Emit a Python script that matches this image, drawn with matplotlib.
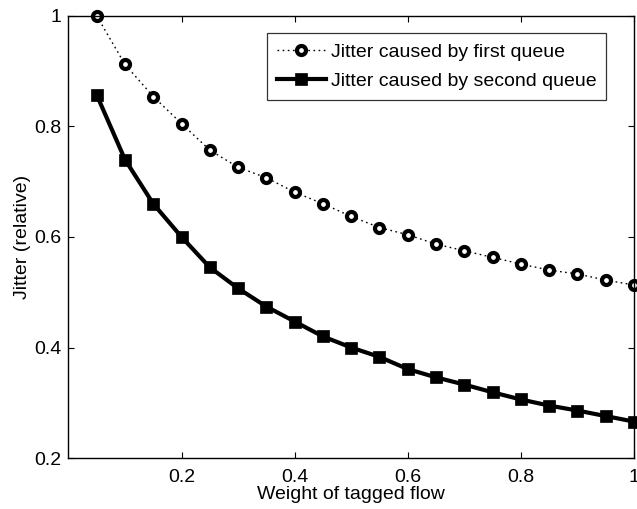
import numpy as np
import matplotlib
matplotlib.use('Agg')
import matplotlib.pyplot as plt

plt.rcParams['font.family'] = ['Liberation Sans', 'DejaVu Sans']

# weight of tagged flow
weight = [0.05, 0.10, 0.15, 0.20, 0.25, 0.30, 0.35, 0.40, 0.45, 0.50,
          0.55, 0.60, 0.65, 0.70, 0.75, 0.80, 0.85, 0.90, 0.95, 1.00]
# jitter caused by first queue (relative)
jitter_first = [1.000, 0.912, 0.854, 0.805, 0.757, 0.726, 0.707, 0.681, 0.660, 0.637,
                0.617, 0.604, 0.587, 0.575, 0.563, 0.551, 0.540, 0.533, 0.522, 0.513]
# jitter caused by second queue (relative)
jitter_second = [0.857, 0.740, 0.660, 0.600, 0.545, 0.507, 0.474, 0.447, 0.420, 0.400,
                 0.383, 0.361, 0.346, 0.333, 0.319, 0.306, 0.295, 0.286, 0.276, 0.266]

xticks = [0.2, 0.4, 0.6, 0.8, 1.0]
xticklabels = ['0.2', '0.4', '0.6', '0.8', '1']
yticks = [0.2, 0.4, 0.6, 0.8, 1.0]
yticklabels = ['0.2', '0.4', '0.6', '0.8', '1']

fs = 14

fig = plt.figure(figsize=(6.37, 5.09), dpi=100)
ax = fig.add_axes([0.1074, 0.100, 0.8879, 0.869])

ax.plot(weight, jitter_first, color='black', linestyle=(0, (1.2, 2.5)), linewidth=1.0,
        marker='o', markersize=6.5, markeredgewidth=3, markerfacecolor='white',
        markeredgecolor='black', label='Jitter caused by first queue', clip_on=False)
ax.plot(weight, jitter_second, color='black', linestyle='-', linewidth=3,
        marker='s', markersize=8, markeredgewidth=0.5, markerfacecolor='black',
        markeredgecolor='black', label='Jitter caused by second queue', clip_on=False)

ax.set_xlim(0, 1)
ax.set_ylim(0.2, 1)
ax.set_xticks(xticks)
ax.set_xticklabels(xticklabels)
ax.set_yticks(yticks)
ax.set_yticklabels(yticklabels)
ax.tick_params(direction='in', length=4, width=0.8, top=True, right=True,
               labelsize=fs, pad=5)
ax.tick_params(axis='x', pad=8)
for s in ax.spines.values():
    s.set_linewidth(1.0)

ax.set_xlabel('Weight of tagged flow', fontsize=fs, labelpad=0)
ax.set_ylabel('Jitter (relative)', fontsize=fs, labelpad=2)

leg = ax.legend(loc='upper right', bbox_to_anchor=(0.9505, 0.960), borderaxespad=0,
                fontsize=fs, handlelength=2.5, handletextpad=0.25, labelspacing=0.6,
                borderpad=0.5, fancybox=False, frameon=True, edgecolor='black')
leg.get_frame().set_linewidth(0.9)

fig.savefig('out.png', dpi=100)
